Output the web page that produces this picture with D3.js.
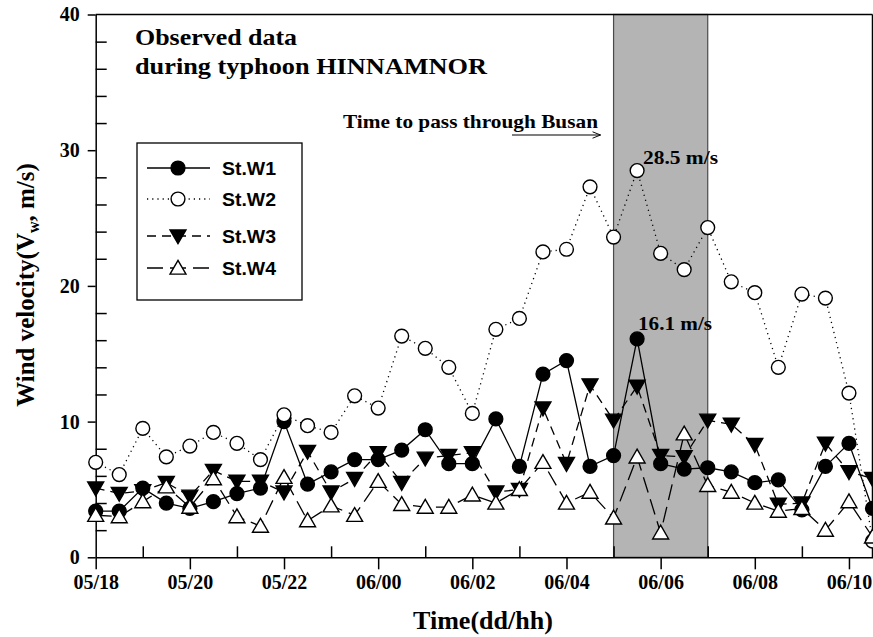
<!DOCTYPE html>
<html>
<head>
<meta charset="utf-8">
<script src="https://cdn.jsdelivr.net/npm/d3@7"></script>
<style>
  html, body { margin: 0; padding: 0; background: #fff; }
  svg { display: block; }
</style>
</head>
<body>
<svg id="chart" width="873" height="637"></svg>
<script>
// Observation times (day/hour:minute)
const times = [
  "05/18:00","05/18:30","05/19:00","05/19:30","05/20:00","05/20:30","05/21:00","05/21:30",
  "05/22:00","05/22:30","05/23:00","05/23:30","06/00:00","06/00:30","06/01:00","06/01:30",
  "06/02:00","06/02:30","06/03:00","06/03:30","06/04:00","06/04:30","06/05:00","06/05:30",
  "06/06:00","06/06:30","06/07:00","06/07:30","06/08:00","06/08:30","06/09:00","06/09:30",
  "06/10:00","06/10:30"
];

// Wind velocity (m/s) at each station
const stW1 = [3.4, 3.4, 5.1, 4.0, 3.6, 4.1, 4.7, 5.1, 10.0, 5.4, 6.3, 7.2, 7.2, 7.9, 9.4, 6.9,
              6.9, 10.2, 6.7, 13.5, 14.5, 6.7, 7.5, 16.1, 6.9, 6.5, 6.6, 6.3, 5.5, 5.7, 3.5, 6.7,
              8.4, 3.6];
const stW2 = [7.0, 6.1, 9.5, 7.4, 8.2, 9.2, 8.4, 7.2, 10.5, 9.7, 9.2, 11.9, 11.0, 16.3, 15.4, 14.0,
              10.6, 16.8, 17.6, 22.5, 22.7, 27.3, 23.6, 28.5, 22.4, 21.2, 24.3, 20.3, 19.5, 14.0, 19.4, 19.1,
              12.1, 1.2];
const stW3 = [5.1, 4.7, 4.9, 5.5, 4.5, 6.4, 5.6, 5.6, 4.8, 7.8, 4.8, 5.8, 7.7, 5.5, 7.3, 7.5,
              7.7, 4.8, 5.0, 11.0, 6.9, 12.7, 10.1, 12.6, 7.5, 7.4, 10.1, 9.8, 8.3, 3.9, 4.0, 8.4,
              6.3, 5.8];
const stW4 = [3.1, 3.0, 4.1, 5.2, 3.7, 5.8, 3.0, 2.3, 5.9, 2.7, 3.8, 3.1, 5.6, 3.9, 3.7, 3.7,
              4.6, 4.0, 5.0, 7.0, 4.0, 4.8, 2.9, 7.4, 1.8, 9.1, 5.3, 4.8, 4.0, 3.4, 3.6, 2.0,
              4.1, 1.5];

const seriesNames = ["St.W1", "St.W2", "St.W3", "St.W4"];
const majorTickLabels = ["05/18","05/20","05/22","06/00","06/02","06/04","06/06","06/08","06/10"];
const minorTickLabels = ["05/19","05/21","05/23","06/01","06/03","06/05","06/07","06/09"];
const yMajorTicks = [0, 10, 20, 30, 40];
const yMinorTicks = [2, 4, 6, 8, 12, 14, 16, 18, 22, 24, 26, 28, 32, 34, 36, 38];
const passStart = "06/05:00", passEnd = "06/07:00";
const peakW2 = 28.5, peakW1 = 16.1;

// "dd/hh[:mm]" -> hours counted from day 05, 00:00
function toHours(s) {
  const [d, rest] = s.split("/");
  const [h, m] = rest.split(":");
  return (+d - 5) * 24 + (+h) + (m ? +m / 60 : 0);
}

const svg = d3.select("#chart");
const x = d3.scaleLinear().domain([toHours("05/18"), toHours("06/10:30")]).range([95.7, 872.5]);
const y = d3.scaleLinear().domain([0, 40]).range([557.3, 14.5]);

const serif = "'Liberation Serif', 'Times New Roman', serif";
const sans = "'Liberation Sans', Arial, sans-serif";

// Typhoon passage band
svg.append("rect")
  .attr("x", x(toHours(passStart)))
  .attr("y", y(40))
  .attr("width", x(toHours(passEnd)) - x(toHours(passStart)))
  .attr("height", y(0) - y(40))
  .attr("fill", "#b4b4b4")
  .attr("stroke", "#4a4a4a")
  .attr("stroke-width", 1.2);

// Frame lines (top and right)
svg.append("line").attr("x1", x.range()[0]).attr("x2", x.range()[1])
  .attr("y1", y(40)).attr("y2", y(40)).attr("stroke", "#000").attr("stroke-width", 1.5);
svg.append("line").attr("x1", x.range()[1]).attr("x2", x.range()[1])
  .attr("y1", y(40)).attr("y2", y(0)).attr("stroke", "#000").attr("stroke-width", 1.5);

// X axis: labelled major ticks outward, minor ticks inward
const xAxisMajor = d3.axisBottom(x)
  .tickValues(majorTickLabels.map(toHours))
  .tickFormat((d, i) => majorTickLabels[i])
  .tickSize(12).tickSizeOuter(0).tickPadding(6);
const gx = svg.append("g").attr("transform", `translate(0,${y(0)})`).call(xAxisMajor);
gx.select(".domain").attr("stroke-width", 1.5);
gx.selectAll(".tick line").attr("stroke-width", 1.5);
gx.selectAll(".tick text").attr("font-family", serif).attr("font-weight", "bold")
  .attr("font-size", 20).attr("fill", "#000");
const xAxisMinor = d3.axisTop(x)
  .tickValues(minorTickLabels.map(toHours))
  .tickFormat("").tickSize(11).tickSizeOuter(0);
const gxm = svg.append("g").attr("transform", `translate(0,${y(0)})`).call(xAxisMinor);
gxm.select(".domain").remove();
gxm.selectAll(".tick line").attr("stroke-width", 1.5);

// Y axis: major ticks outward with labels, minor ticks inward
const yAxisMajor = d3.axisLeft(y).tickValues(yMajorTicks).tickSize(8)
  .tickSizeOuter(0).tickPadding(8);
const gy = svg.append("g").attr("transform", `translate(${x.range()[0]},0)`).call(yAxisMajor);
gy.select(".domain").attr("stroke-width", 1.5);
gy.selectAll(".tick line").attr("stroke-width", 1.5);
gy.selectAll(".tick text").attr("font-family", serif).attr("font-weight", "bold")
  .attr("font-size", 20).attr("fill", "#000");
const yAxisMinor = d3.axisRight(y).tickValues(yMinorTicks).tickFormat("").tickSize(11).tickSizeOuter(0);
const gym = svg.append("g").attr("transform", `translate(${x.range()[0]},0)`).call(yAxisMinor);
gym.select(".domain").remove();
gym.selectAll(".tick line").attr("stroke-width", 1.5);

// Series styling
const styles = [
  { values: stW1, dash: null,   symbol: d3.symbolCircle,   fill: "#000", size: 150, rot: 0 },
  { values: stW2, dash: "1.2,4", symbol: d3.symbolCircle,   fill: "#fff", size: 150, rot: 0 },
  { values: stW3, dash: "9,6",  symbol: d3.symbolTriangle, fill: "#000", size: 110, rot: 180 },
  { values: stW4, dash: "16,7", symbol: d3.symbolTriangle, fill: "#fff", size: 110, rot: 0 }
];

const line = d3.line().x(d => x(d.t)).y(d => y(d.v));

styles.forEach((s) => {
  const pts = times.map((t, i) => ({ t: toHours(t), v: s.values[i] }));
  svg.append("path").datum(pts)
    .attr("d", line)
    .attr("fill", "none")
    .attr("stroke", "#000")
    .attr("stroke-width", 1.3)
    .attr("stroke-dasharray", s.dash);
  svg.append("g").selectAll("path").data(pts).join("path")
    .attr("d", d3.symbol(s.symbol, s.size))
    .attr("transform", d => `translate(${x(d.t)},${y(d.v) + (s.symbol === d3.symbolTriangle ? (s.rot ? -1.5 : 1.5) : 0)}) rotate(${s.rot})`)
    .attr("fill", s.fill)
    .attr("stroke", "#000")
    .attr("stroke-width", 1.4);
});

// Legend
const legend = svg.append("g");
legend.append("rect").attr("x", 137).attr("y", 143).attr("width", 165).attr("height", 157)
  .attr("fill", "#fff").attr("stroke", "#000").attr("stroke-width", 1.3);
const legendY = [168, 199, 236, 268];
styles.forEach((s, i) => {
  const ly = legendY[i];
  legend.append("line").attr("x1", 147).attr("x2", 210).attr("y1", ly).attr("y2", ly)
    .attr("stroke", "#000").attr("stroke-width", 1.3).attr("stroke-dasharray", s.dash);
  legend.append("path").attr("d", d3.symbol(s.symbol, s.size))
    .attr("transform", `translate(178,${ly + (s.symbol === d3.symbolTriangle ? (s.rot ? -1.5 : 1.5) : 0)}) rotate(${s.rot})`)
    .attr("fill", s.fill).attr("stroke", "#000").attr("stroke-width", 1.4);
  legend.append("text").attr("x", 222).attr("y", ly + 6.5)
    .attr("font-family", sans).attr("font-weight", "bold").attr("font-size", 18)
    .attr("textLength", 54).attr("lengthAdjust", "spacingAndGlyphs")
    .text(seriesNames[i]);
});

// Titles and annotations
const bold = (sel, size) => sel.attr("font-family", serif).attr("font-weight", "bold")
  .attr("font-size", size).attr("fill", "#000");

bold(svg.append("text"), 23).attr("x", 135).attr("y", 45)
  .attr("textLength", 162).attr("lengthAdjust", "spacingAndGlyphs").text("Observed data");
bold(svg.append("text"), 23).attr("x", 135).attr("y", 74)
  .attr("textLength", 352).attr("lengthAdjust", "spacingAndGlyphs").text("during typhoon HINNAMNOR");

bold(svg.append("text"), 19).attr("x", 343).attr("y", 128)
  .attr("textLength", 255).attr("lengthAdjust", "spacingAndGlyphs")
  .text("Time to pass through Busan");
svg.append("defs").append("marker").attr("id", "arrow")
  .attr("viewBox", "0 0 10 10").attr("refX", 10).attr("refY", 5)
  .attr("markerWidth", 10).attr("markerHeight", 8).attr("markerUnits", "userSpaceOnUse")
  .attr("orient", "auto")
  .append("path").attr("d", "M0,1 L10,5 L0,9").attr("fill", "none").attr("stroke", "#000").attr("stroke-width", 1.2);
svg.append("line").attr("x1", 512).attr("x2", x(toHours(passStart)) - 13).attr("y1", 135).attr("y2", 135)
  .attr("stroke", "#000").attr("stroke-width", 1.1).attr("marker-end", "url(#arrow)");

bold(svg.append("text"), 19).attr("x", 643).attr("y", y(peakW2) - 7)
  .attr("textLength", 75).attr("lengthAdjust", "spacingAndGlyphs")
  .text(`${peakW2} m/s`);
bold(svg.append("text"), 19).attr("x", 638).attr("y", y(peakW1) - 9)
  .attr("textLength", 74).attr("lengthAdjust", "spacingAndGlyphs")
  .text(`${peakW1} m/s`);

// Axis titles
bold(svg.append("text"), 25).attr("x", 483).attr("y", 629).attr("text-anchor", "middle")
  .attr("textLength", 140).attr("lengthAdjust", "spacingAndGlyphs")
  .text("Time(dd/hh)");
const ylab = bold(svg.append("text"), 25).attr("transform", "translate(34,285) rotate(-90)")
  .attr("text-anchor", "middle");
ylab.append("tspan").text("Wind velocity(V");
ylab.append("tspan").attr("font-size", 16).attr("dy", 5).text("w");
ylab.append("tspan").attr("dy", -5).text(", m/s)");
</script>
</body>
</html>
